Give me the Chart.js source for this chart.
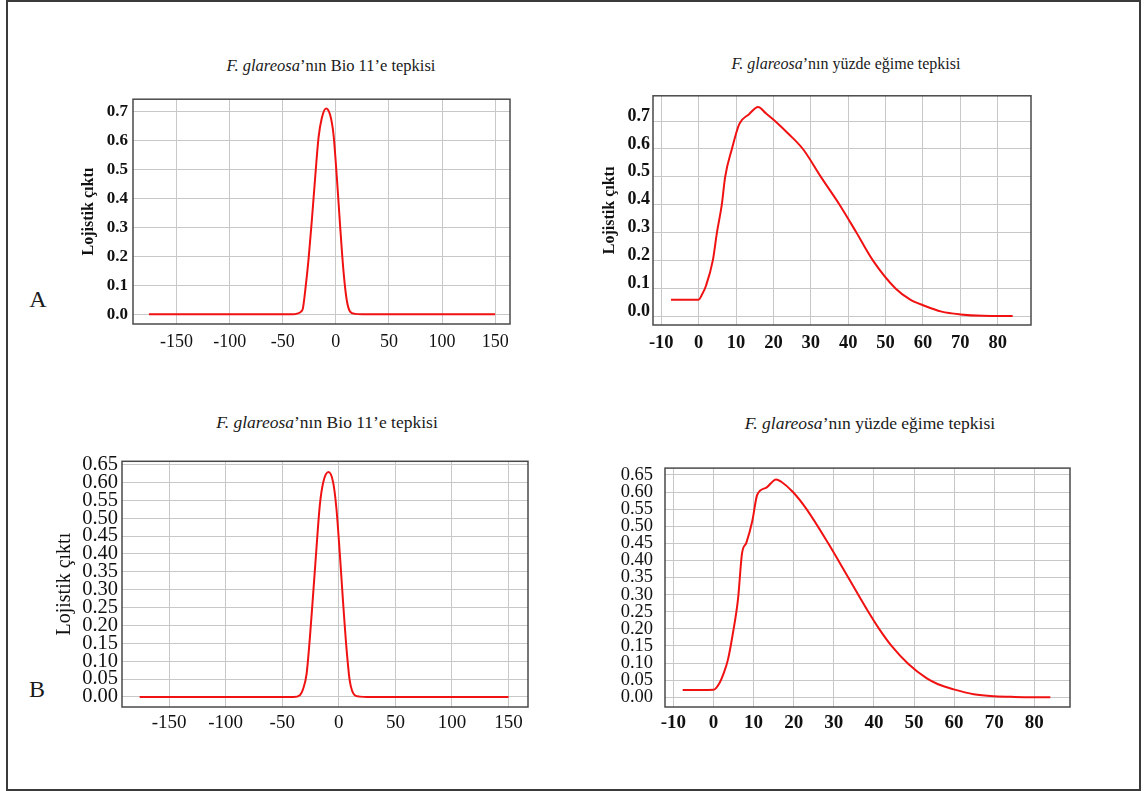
<!DOCTYPE html>
<html>
<head>
<meta charset="utf-8">
<script src="https://cdn.jsdelivr.net/npm/chart.js@4.4.1/dist/chart.umd.min.js"></script>
<style>
  body { margin: 0; background: #fff; width: 1146px; height: 791px; position: relative; overflow: hidden; font-family: "Liberation Serif", serif; color: #1a1a1a; }
  #frame { position: absolute; left: 6px; top: 0; width: 1131px; height: 787px; border: 2px solid #3a3a3a; }
  canvas { position: absolute; }
  .title { position: absolute; white-space: nowrap; transform: translate(-50%, -50%); font-size: 16.5px; }
  .letter { position: absolute; transform: translate(-50%, -50%); font-size: 24px; }
</style>
</head>
<body>
<div id="frame"></div>

<div class="title" style="left:331px;top:66px"><i>F. glareosa</i>’nın Bio 11’e tepkisi</div>
<div class="title" style="left:846px;top:64px;font-size:16px"><i>F. glareosa</i>’nın yüzde eğime tepkisi</div>
<div class="title" style="left:327px;top:422px;font-size:17.5px"><i>F. glareosa</i>’nın Bio 11’e tepkisi</div>
<div class="title" style="left:870px;top:423px;font-size:17.5px"><i>F. glareosa</i>’nın yüzde eğime tepkisi</div>
<div class="letter" style="left:38px;top:299px">A</div>
<div class="letter" style="left:37px;top:689px">B</div>

<canvas id="bioA"></canvas>
<canvas id="slopeA"></canvas>
<canvas id="bioB"></canvas>
<canvas id="slopeB"></canvas>

<script>
// tick labels
const bioTicksX = [-150, -100, -50, 0, 50, 100, 150];
const slopeTicksX = [-10, 0, 10, 20, 30, 40, 50, 60, 70, 80];
const ticksYA = [0, 0.1, 0.2, 0.3, 0.4, 0.5, 0.6, 0.7];
const ticksYB = [0, 0.05, 0.1, 0.15, 0.2, 0.25, 0.3, 0.35, 0.4, 0.45, 0.5, 0.55, 0.6, 0.65];

// A - Bio 11 response
const bioXA = [-176, -60, -40, -36.6, -33, -31, -28.8, -25.6, -22.5, -19.4, -16.3, -13.2, -9.2, -5.4, -2.2, 0.9, 4.0, 7.2, 10.3, 13.4, 18, 25, 150];
const bioYA = [0, 0, 0, 0.002, 0.008, 0.02, 0.082, 0.194, 0.329, 0.475, 0.61, 0.678, 0.711, 0.689, 0.621, 0.475, 0.307, 0.149, 0.048, 0.009, 0.001, 0, 0];

// A - slope response
const slopeXA = [-7.4, 0, 1.0, 2.0, 3.8, 4.9, 6.2, 7.1, 8.9, 10.9, 13.5, 15.9, 18, 20.5, 24, 27.9, 32.7, 37.7, 42.2, 46.6, 52.6, 56.5, 60.2, 65, 70, 76, 84];
const slopeYA = [0.059, 0.059, 0.08, 0.11, 0.2, 0.3, 0.4, 0.5, 0.6, 0.69, 0.725, 0.751, 0.728, 0.70, 0.655, 0.60, 0.50, 0.40, 0.30, 0.20, 0.10, 0.06, 0.038, 0.016, 0.006, 0.001, 0];

// B - Bio 11 response
const bioXB = [-176, -60, -40, -34.4, -31.5, -28.5, -25.6, -22.6, -19.7, -16.8, -13.8, -9.1, -5.0, -2.1, 0.9, 3.8, 6.8, 9.7, 14.1, 18.5, 25, 150];
const bioYB = [0, 0, 0, 0.005, 0.023, 0.064, 0.164, 0.291, 0.418, 0.536, 0.6, 0.629, 0.6, 0.527, 0.4, 0.264, 0.136, 0.045, 0.005, 0.001, 0, 0];

// B - slope response
const slopeXB = [-7.7, 0, 1.5, 2.5, 3.6, 4.8, 6.1, 7.1, 8.2, 9.7, 10.9, 13.2, 15.6, 16.9, 19.8, 23.2, 28.6, 33.6, 38.6, 41.3, 44.4, 48.6, 53.2, 56, 59.9, 64.9, 70, 75, 84];
const slopeYB = [0.021, 0.022, 0.042, 0.069, 0.11, 0.185, 0.286, 0.42, 0.452, 0.517, 0.592, 0.613, 0.637, 0.63, 0.60, 0.55, 0.45, 0.35, 0.25, 0.20, 0.15, 0.097, 0.055, 0.038, 0.023, 0.009, 0.003, 0.001, 0];

const yTitle = "Lojistik çıktı";
const FONT = "'Liberation Serif', 'Times New Roman', serif";

const boxBorder = {
  id: "boxBorder",
  afterDraw(chart) {
    const { ctx, chartArea: a } = chart;
    ctx.save();
    ctx.strokeStyle = "#4a4a4a";
    ctx.lineWidth = 1.5;
    ctx.strokeRect(a.left, a.top, a.right - a.left, a.bottom - a.top);
    ctx.restore();
  }
};

function makeChart(id, p) {
  const canvas = document.getElementById(id);
  const padT = 10, padR = 14;
  const w = p.box.r - p.box.l + p.yW + padR;
  const h = p.box.b - p.box.t + padT + p.xH;
  canvas.width = w;
  canvas.height = h;
  canvas.style.left = (p.box.l - p.yW) + "px";
  canvas.style.top = (p.box.t - padT) + "px";

  return new Chart(canvas, {
    type: "line",
    data: {
      datasets: [{
        data: p.xs.map((x, i) => ({ x, y: p.ys[i] })),
        borderColor: "#f01212",
        borderWidth: 2,
        pointRadius: 0,
        cubicInterpolationMode: "monotone",
        fill: false
      }]
    },
    options: {
      responsive: false,
      animation: false,
      layout: { padding: { top: padT, right: padR, left: 0, bottom: 0 } },
      plugins: { legend: { display: false }, tooltip: { enabled: false } },
      scales: {
        x: {
          type: "linear",
          min: p.xMin,
          max: p.xMax,
          afterBuildTicks: s => { s.ticks = p.xTicks.map(v => ({ value: v })); },
          afterFit: s => { s.height = p.xH; },
          border: { display: false },
          grid: { color: "#c8c8c8", drawTicks: false },
          ticks: {
            autoSkip: false, maxRotation: 0, padding: p.xPad, color: "#111",
            font: { family: FONT, size: p.xFont, weight: p.xBold ? "bold" : "normal" },
            callback: v => String(v)
          }
        },
        y: {
          type: "linear",
          min: p.yMin,
          max: p.yMax,
          afterBuildTicks: s => { s.ticks = p.yTicks.map(v => ({ value: v })); },
          afterFit: s => { s.width = p.yW; },
          border: { display: false },
          grid: { color: "#c8c8c8", drawTicks: false },
          ticks: {
            autoSkip: false, padding: p.yPad, color: "#111", labelOffset: p.yShift || 0,
            font: { family: FONT, size: p.yFont, weight: p.yBold ? "bold" : "normal" },
            callback: v => v.toFixed(p.dec)
          },
          title: {
            display: !!p.title,
            text: p.title || "",
            color: "#111",
            padding: 0,
            font: { family: FONT, size: p.titleFont || 15, weight: p.titleBold ? "bold" : "normal" }
          }
        }
      }
    },
    plugins: [boxBorder]
  });
}

makeChart("bioA", {
  xs: bioXA, ys: bioYA, xTicks: bioTicksX, yTicks: ticksYA, dec: 1,
  box: { l: 133, t: 94, r: 510, b: 324 }, yW: 54, xH: 38,
  xMin: -191, xMax: 164, yMin: -0.034, yMax: 0.743,
  xFont: 18, xBold: false, xPad: 7, yFont: 17, yBold: true, yPad: 5,
  title: yTitle, titleFont: 16, titleBold: true
});

makeChart("slopeA", {
  xs: slopeXA, ys: slopeYA, xTicks: slopeTicksX, yTicks: ticksYA, dec: 1,
  box: { l: 653, t: 92, r: 1031, b: 325 }, yW: 53, xH: 38,
  xMin: -12.2, xMax: 88.9, yMin: -0.032, yMax: 0.791,
  xFont: 18.5, xBold: true, xPad: 7, yFont: 18, yBold: true, yPad: 3, yShift: -5,
  title: yTitle, titleFont: 16, titleBold: true
});

makeChart("bioB", {
  xs: bioXB, ys: bioYB, xTicks: bioTicksX, yTicks: ticksYB, dec: 2,
  box: { l: 122, t: 455, r: 528, b: 707 }, yW: 69, xH: 38,
  xMin: -191.6, xMax: 167.2, yMin: -0.028, yMax: 0.659,
  xFont: 19, xBold: false, xPad: 5, yFont: 20.5, yBold: false, yPad: 4,
  title: yTitle, titleFont: 20, titleBold: false
});

makeChart("slopeB", {
  xs: slopeXB, ys: slopeYB, xTicks: slopeTicksX, yTicks: ticksYB, dec: 2,
  box: { l: 665, t: 455, r: 1070, b: 707 }, yW: 65, xH: 38,
  xMin: -12.1, xMax: 88.9, yMin: -0.0285, yMax: 0.67,
  xFont: 19, xBold: true, xPad: 5, yFont: 18.5, yBold: false, yPad: 12,
  title: null
});
</script>
</body>
</html>
